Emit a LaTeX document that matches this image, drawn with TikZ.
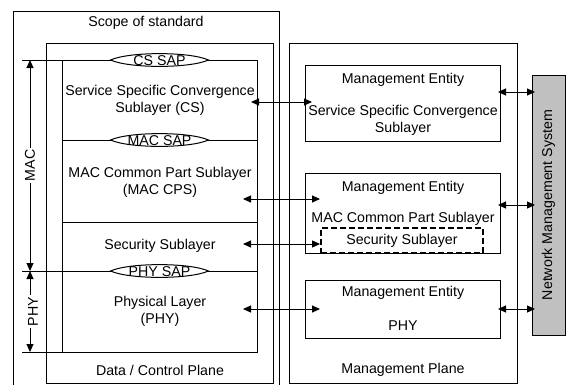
\documentclass[tikz,border=0pt]{standalone}
\usepackage{fontspec}
\setmainfont{Liberation Sans}
\usetikzlibrary{arrows.meta}
\definecolor{nmsgray}{RGB}{192,192,192}
\newcommand\saplens[3]{%
  \begin{scope}[shift={(#2)}]
    \draw[ln,fill=white] (-49,0) .. controls (-30,-8.5) and (30,-8.5) .. (49,0)
      .. controls (30,8.5) and (-30,8.5) .. (-49,0) -- cycle;
  \end{scope}
  \node (#1) at (#2) [yshift=-1pt] {#3};}
\begin{document}
\begin{tikzpicture}[x=1pt,y=-1pt,
  every node/.style={font=\fontsize{14.2}{17}\selectfont, inner sep=0pt},
  ln/.style={line width=1pt},
  box/.style={draw, line width=1pt, inner sep=0pt},
  dbl/.style={line width=1pt,{Triangle[length=8pt,width=7pt]}-{Triangle[length=8pt,width=7pt]}},
  lbl/.style={fill=white, rotate=90, inner xsep=2pt, inner ysep=1pt},
  txt/.style={align=center},
]
\useasboundingbox (0,0) rectangle (566,384);
% planes
\draw[ln] (13,392) |- (279,11) -- (279,392);
\draw[ln] (46,43) rectangle (273,383);
\draw[ln] (289,43) rectangle (517,383);
\node (scope) at (146,23) {Scope of standard};
\node (dcp) at (160,370) {Data / Control Plane};
\node (mp) at (403,370) {Management Plane};
% layer stack
\draw[ln] (62,60) rectangle (257,352);
\draw[ln] (22,60) -- (62,60);
\draw[ln] (22,271) -- (257,271);
\draw[ln] (22,352) -- (62,352);
\draw[ln] (62,140) -- (257,140);
\draw[ln] (62,222) -- (257,222);
\saplens{cssap}{159.5,60}{CS SAP}
\saplens{macsap}{159.5,140}{MAC SAP}
\saplens{physap}{159.5,271}{PHY SAP}
\node[txt] (cs) at (160,100) {Service Specific Convergence\\Sublayer (CS)};
\node[txt] (cps) at (160,182) {MAC Common Part Sublayer\\(MAC CPS)};
\node (sec) at (160,246) {Security Sublayer};
\node[txt] (phy) at (160,311) {Physical Layer\\(PHY)};
% left dimension arrows
\coordinate (macT) at (30,60);
\coordinate (macB) at (30,271);
\coordinate (phyB) at (30,352);
\draw[dbl] (macT) -- (macB) node[midway, lbl] (maclbl) {MAC};
\draw[dbl] (macB) -- (phyB) node[midway, lbl, yshift=-3pt] (phylbl) {PHY};
% management entities
\node[box, minimum width=195, minimum height=76] (me1) at (402.5,103) {};
\node[box, minimum width=195, minimum height=80] (me2) at (402.5,213) {};
\node[box, minimum width=195, minimum height=58] (me3) at (402.5,309) {};
\node[draw, line width=1.8pt, dash pattern=on 6pt off 3pt, minimum width=162, minimum height=25] (secbox) at (402,240.5) {};
\node (me1t) at (403,80) {Management Entity};
\node[txt] (me1s) at (403,120) {Service Specific Convergence\\Sublayer};
\node (me2t) at (403,188) {Management Entity};
\node (me2s) at (403,219) {MAC Common Part Sublayer};
\node (secs) at (secbox.center) {Security Sublayer};
\node (me3t) at (403,293) {Management Entity};
\node (me3s) at (403,326) {PHY};
% network management system
\node[box, fill=nmsgray, minimum width=33, minimum height=260] (nms) at (548.5,205) {};
\node[rotate=90] (nmst) at (nms.center) {Network Management System};
% horizontal arrows
\coordinate (a1L) at (251,102); \coordinate (a1R) at (312,102);
\coordinate (a2L) at (243,199); \coordinate (a2R) at (320,199);
\coordinate (a3L) at (243,244); \coordinate (a3R) at (secbox.west |- 0,244);
\coordinate (a4L) at (243,309); \coordinate (a4R) at (320,309);
\draw[dbl] (a1L) -- (a1R);
\draw[dbl] (a2L) -- (a2R);
\draw[dbl] (a3L) -- (a3R);
\draw[dbl] (a4L) -- (a4R);
\coordinate (b1L) at (498,92); \coordinate (b1R) at (535,92);
\coordinate (b2L) at (498,205); \coordinate (b2R) at (535,205);
\coordinate (b3L) at (498,309); \coordinate (b3R) at (535,309);
\draw[dbl] (b1L) -- (b1R);
\draw[dbl] (b2L) -- (b2R);
\draw[dbl] (b3L) -- (b3R);
\end{tikzpicture}
\end{document}
